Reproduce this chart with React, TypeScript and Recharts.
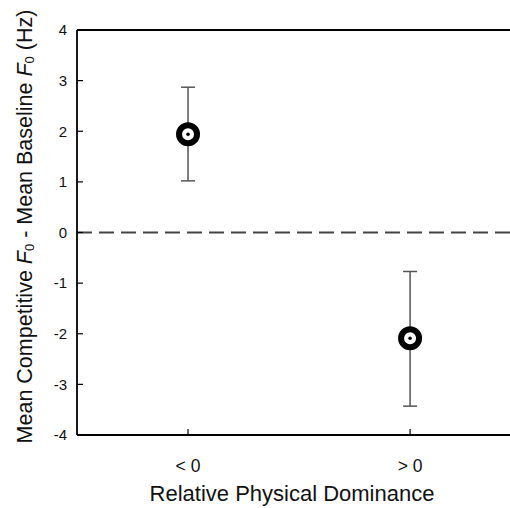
import React from "react";
import {
  ComposedChart,
  Scatter,
  ErrorBar,
  XAxis,
  YAxis,
  ReferenceLine,
} from "recharts";

const categories = ["< 0", "> 0"];
const meanDiff = [1.94, -2.09];
const errLower = [0.92, 1.34];
const errUpper = [0.93, 1.32];
const yTicks = [-4, -3, -2, -1, 0, 1, 2, 3, 4];

const data = categories.map((c, i) => ({
  pos: i,
  cat: c,
  value: meanDiff[i],
  err: [errLower[i], errUpper[i]],
}));

const FONT = "'Liberation Sans', Arial, Helvetica, sans-serif";

const XTick = (props: any) => {
  const { x, y, payload } = props;
  return (
    <g>
      <line x1={x} y1={y} x2={x} y2={y - 6} stroke="#000" strokeWidth={1.2} />
      <text x={x} y={y + 37} textAnchor="middle" fontSize={17.5} fontFamily={FONT} fill="#111">
        {categories[payload.value]}
      </text>
    </g>
  );
};

const YTick = (props: any) => {
  const { x, y, payload } = props;
  return (
    <g>
      <line x1={x} y1={y} x2={x + 6} y2={y} stroke="#000" strokeWidth={1.2} />
      <text x={x - 10} y={y} dy="0.35em" textAnchor="end" fontSize={15} fontFamily={FONT} fill="#111">
        {payload.value}
      </text>
    </g>
  );
};

const Ring = (props: any) => {
  const { cx, cy } = props;
  return (
    <g>
      <circle cx={cx} cy={cy} r={9} fill="#fff" stroke="#000" strokeWidth={6} />
      <circle cx={cx} cy={cy} r={1.8} fill="#000" />
    </g>
  );
};

const YLabel = () => (
  <text
    x={25}
    y={226.5}
    transform="rotate(-90 25 226.5)"
    textAnchor="middle"
    dominantBaseline="central"
    fontSize={21.5}
    fontFamily={FONT}
    fill="#111"
  >
    Mean Competitive <tspan fontStyle="italic">F</tspan>
    <tspan fontSize={13} baselineShift="-35%">0</tspan>
    <tspan> - Mean Baseline </tspan>
    <tspan fontStyle="italic">F</tspan>
    <tspan fontSize={13} baselineShift="-35%">0</tspan>
    <tspan> (Hz)</tspan>
  </text>
);

const XLabel = () => (
  <text x={292} y={501} textAnchor="middle" fontSize={22} fontFamily={FONT} fill="#111">
    Relative Physical Dominance
  </text>
);

export default function App() {
  return (
    <div
      style={{
        position: "fixed",
        left: 0,
        top: 0,
        width: 510,
        height: 508,
        overflow: "hidden",
        background: "#fff",
      }}
    >
      <ComposedChart
        width={510}
        height={508}
        data={data}
        margin={{ top: 30, right: 0, bottom: 0, left: 0 }}
      >
        <XAxis
          dataKey="pos"
          type="number"
          domain={[-0.5, 1.45]}
          ticks={[0, 1]}
          allowDataOverflow
          height={73}
          tickSize={0}
          tickMargin={0}
          tickLine={false}
          axisLine={{ stroke: "#000", strokeWidth: 1.8 }}
          tick={<XTick />}
          label={{ content: () => <XLabel /> }}
        />
        <YAxis
          type="number"
          domain={[-4, 4]}
          ticks={yTicks}
          width={77}
          tickSize={0}
          tickMargin={0}
          tickLine={false}
          axisLine={{ stroke: "#000", strokeWidth: 1.8 }}
          tick={<YTick />}
          label={{ content: () => <YLabel /> }}
          interval={0}
        />
        <ReferenceLine y={4} stroke="#000" strokeWidth={1.8} />
        <ReferenceLine y={0} stroke="#444" strokeWidth={2} strokeDasharray="15 7" />
        <Scatter dataKey="value" shape={<Ring />} isAnimationActive={false}>
          <ErrorBar dataKey="err" direction="y" width={7} stroke="#555" strokeWidth={1.5} />
        </Scatter>
      </ComposedChart>
      <div style={{ position: "absolute", left: 500, top: 0, width: 10, height: 508, background: "transparent" }} />
    </div>
  );
}
